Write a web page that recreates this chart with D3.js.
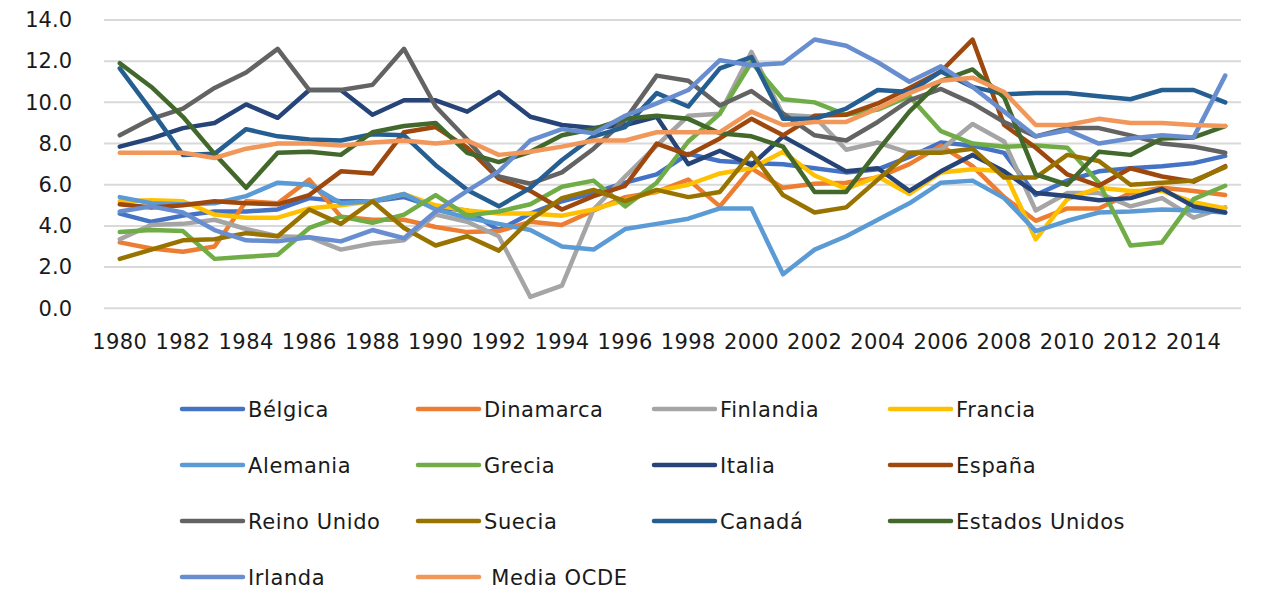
<!DOCTYPE html>
<html>
<head>
<meta charset="utf-8">
<script src="https://cdn.jsdelivr.net/npm/d3@7"></script>
<style>
  body { margin: 0; background: #fff; }
  svg text { font-family: "DejaVu Sans", sans-serif; fill: #1a1a1a; }
</style>
</head>
<body>
<div id="chart"></div>
<script>
const years = [1980, 1981, 1982, 1983, 1984, 1985, 1986, 1987, 1988, 1989,
  1990, 1991, 1992, 1993, 1994, 1995, 1996, 1997, 1998, 1999,
  2000, 2001, 2002, 2003, 2004, 2005, 2006, 2007, 2008, 2009,
  2010, 2011, 2012, 2013, 2014, 2015];

const yTicks = [0, 2, 4, 6, 8, 10, 12, 14];

const belgica = [4.6, 4.2, 4.5, 4.7, 4.7, 4.8, 5.35, 5.2, 5.2, 5.4, 4.9, 4.75, 3.8, 4.6, 5.2, 5.6, 6.1, 6.5, 7.5, 7.15, 7.05, 7.0, 6.8, 6.6, 6.75, 7.35, 8.05, 7.9, 7.55, 5.5, 6.2, 6.65, 6.8, 6.9, 7.05, 7.4];
const dinamarca = [3.2, 2.9, 2.75, 3.0, 5.2, 5.1, 6.25, 4.45, 4.3, 4.3, 3.95, 3.7, 3.75, 4.2, 4.05, 4.75, 5.4, 5.65, 6.25, 4.95, 6.8, 5.85, 6.05, 6.1, 6.35, 7.0, 7.9, 6.9, 5.4, 4.25, 4.85, 4.85, 5.6, 5.85, 5.7, 5.5];
const finlandia = [3.35, 4.05, 4.1, 4.3, 3.85, 3.5, 3.45, 2.85, 3.15, 3.3, 4.55, 4.2, 3.5, 0.55, 1.1, 4.8, 6.4, 7.9, 9.35, 9.45, 12.45, 9.4, 9.3, 7.7, 8.05, 7.55, 7.7, 8.95, 8.1, 4.75, 5.6, 5.6, 4.95, 5.35, 4.4, 4.9];
const francia = [5.2, 5.25, 5.2, 4.55, 4.4, 4.4, 4.85, 5.0, 5.2, 5.55, 5.0, 4.75, 4.6, 4.6, 4.5, 4.8, 5.25, 5.7, 6.0, 6.55, 6.8, 7.6, 6.45, 5.8, 6.4, 5.55, 6.6, 6.75, 6.65, 3.35, 5.3, 5.85, 5.7, 5.7, 5.15, 4.85];
const alemania = [5.4, 5.1, 5.05, 5.1, 5.45, 6.1, 6.0, 5.1, 5.2, 5.55, 4.8, 4.4, 4.1, 3.8, 3.0, 2.85, 3.85, 4.1, 4.35, 4.85, 4.85, 1.65, 2.85, 3.5, 4.3, 5.1, 6.1, 6.2, 5.35, 3.75, 4.25, 4.65, 4.7, 4.8, 4.75, 4.65];
const grecia = [3.7, 3.8, 3.75, 2.4, 2.5, 2.6, 3.9, 4.45, 4.15, 4.55, 5.5, 4.5, 4.7, 5.05, 5.9, 6.2, 4.95, 6.1, 8.1, 9.45, 11.95, 10.15, 10.0, 9.4, 9.65, 10.3, 8.6, 8.0, 7.85, 7.9, 7.8, 6.1, 3.05, 3.2, 5.3, 5.95];
const italia = [7.85, 8.25, 8.75, 9.0, 9.9, 9.25, 10.6, 10.6, 9.4, 10.1, 10.1, 9.55, 10.5, 9.3, 8.9, 8.75, 8.9, 9.3, 7.0, 7.65, 6.95, 8.35, 7.5, 6.65, 6.8, 5.7, 6.65, 7.45, 6.65, 5.6, 5.45, 5.25, 5.35, 5.8, 4.95, 4.65];
const espana = [5.05, 4.9, 5.0, 5.2, 5.1, 5.05, 5.5, 6.65, 6.55, 8.55, 8.8, 7.8, 6.3, 5.7, 4.8, 5.45, 5.95, 8.0, 7.45, 8.25, 9.2, 8.4, 9.35, 9.4, 9.95, 10.7, 11.5, 13.05, 8.9, 7.8, 6.5, 5.95, 6.8, 6.4, 6.15, 6.9];
const reinoUnido = [8.4, 9.2, 9.7, 10.7, 11.45, 12.6, 10.6, 10.6, 10.85, 12.6, 9.8, 8.2, 6.4, 6.05, 6.6, 7.75, 9.15, 11.3, 11.05, 9.85, 10.55, 9.45, 8.4, 8.15, 9.05, 10.1, 10.65, 9.95, 9.05, 8.35, 8.75, 8.75, 8.4, 8.0, 7.85, 7.55];
const suecia = [2.4, 2.85, 3.3, 3.35, 3.65, 3.5, 4.8, 4.1, 5.2, 3.9, 3.05, 3.5, 2.8, 4.3, 5.35, 5.75, 5.2, 5.75, 5.4, 5.65, 7.55, 5.5, 4.65, 4.9, 6.25, 7.55, 7.55, 7.75, 6.35, 6.35, 7.45, 7.15, 6.0, 6.1, 6.2, 6.85];
const canada = [11.65, 9.6, 7.45, 7.5, 8.7, 8.35, 8.2, 8.15, 8.45, 8.4, 6.95, 5.75, 4.95, 5.85, 7.2, 8.35, 8.8, 10.45, 9.8, 11.65, 12.2, 9.2, 9.2, 9.7, 10.6, 10.5, 11.5, 10.75, 10.4, 10.45, 10.45, 10.3, 10.15, 10.6, 10.6, 10.0];
const estadosUnidos = [11.9, 10.75, 9.3, 7.5, 5.85, 7.55, 7.6, 7.45, 8.55, 8.85, 9.0, 7.55, 7.1, 7.6, 8.4, 8.7, 9.2, 9.35, 9.2, 8.5, 8.35, 7.85, 5.65, 5.65, 7.65, 9.55, 11.05, 11.6, 10.25, 6.5, 6.0, 7.6, 7.45, 8.25, 8.3, 8.85];
const irlanda = [4.7, 4.95, 4.65, 3.8, 3.3, 3.25, 3.45, 3.25, 3.8, 3.4, 4.7, 5.7, 6.65, 8.15, 8.7, 8.5, 9.35, 9.95, 10.6, 12.05, 11.8, 11.9, 13.05, 12.75, 11.95, 11.0, 11.75, 10.75, 9.55, 8.35, 8.65, 8.0, 8.25, 8.4, 8.3, 11.3];
const mediaOCDE = [7.55, 7.55, 7.55, 7.3, 7.75, 8.0, 8.0, 7.9, 8.05, 8.15, 8.0, 8.15, 7.45, 7.6, 7.85, 8.15, 8.15, 8.55, 8.55, 8.55, 9.55, 8.9, 9.05, 9.05, 9.7, 10.45, 11.05, 11.2, 10.5, 8.9, 8.9, 9.2, 9.0, 9.0, 8.9, 8.85];

const seriesNames = ['Bélgica', 'Dinamarca', 'Finlandia', 'Francia', 'Alemania', 'Grecia', 'Italia',
  'España', 'Reino Unido', 'Suecia', 'Canadá', 'Estados Unidos', 'Irlanda', ' Media OCDE'];
const seriesValues = [belgica, dinamarca, finlandia, francia, alemania, grecia, italia,
  espana, reinoUnido, suecia, canada, estadosUnidos, irlanda, mediaOCDE];
const seriesColors = ['#4472C4', '#ED7D31', '#A5A5A5', '#FFC000', '#5B9BD5', '#70AD47', '#264478',
  '#9E480E', '#636363', '#997300', '#255E91', '#43682B', '#698ED0', '#F1975A'];

const width = 1268, height = 594;
const plot = { left: 104, right: 1241, top: 20, bottom: 308.3 };

const svg = d3.select('#chart').append('svg')
  .attr('width', width).attr('height', height);

const x = d3.scaleBand().domain(years).range([plot.left, plot.right]).padding(0);
const cx = d => x(d) + x.bandwidth() / 2;
const y = d3.scaleLinear().domain([0, 14]).range([plot.bottom, plot.top]);

// gridlines
svg.append('g').selectAll('line').data(yTicks).join('line')
  .attr('x1', plot.left).attr('x2', plot.right)
  .attr('y1', d => y(d)).attr('y2', d => y(d))
  .attr('stroke', '#d9d9d9').attr('stroke-width', 2);

// y axis labels
const yAxis = svg.append('g').attr('transform', `translate(${plot.left},0)`)
  .call(d3.axisLeft(y).tickValues(yTicks).tickFormat(d3.format('.1f')).tickSize(0).tickPadding(32));
yAxis.select('.domain').remove();
yAxis.selectAll('text').attr('font-size', '21px').attr('font-family', 'DejaVu Sans');

// x axis labels, every other year
const xAxis = svg.append('g').attr('transform', `translate(0,${plot.bottom})`)
  .call(d3.axisBottom(x).tickValues(years.filter((d, i) => i % 2 === 0)).tickSize(0).tickPadding(26));
xAxis.select('.domain').remove();
xAxis.selectAll('text').attr('font-size', '21px').attr('font-family', 'DejaVu Sans')
  .attr('letter-spacing', '0.4px');

// lines
const line = d3.line().x((d, i) => cx(years[i])).y(d => y(d));
svg.append('g').selectAll('path').data(seriesValues).join('path')
  .attr('d', d => line(d))
  .attr('fill', 'none')
  .attr('stroke', (d, i) => seriesColors[i])
  .attr('stroke-width', 4.5)
  .attr('stroke-linejoin', 'round')
  .attr('stroke-linecap', 'round');

// legend: 4 columns
const leg = svg.append('g');
seriesNames.forEach((name, i) => {
  const col = i % 4, row = Math.floor(i / 4);
  const lx = 182 + col * 236, ly = 409 + row * 56;
  leg.append('line').attr('x1', lx).attr('x2', lx + 61).attr('y1', ly).attr('y2', ly)
    .attr('stroke', seriesColors[i]).attr('stroke-width', 4.5).attr('stroke-linecap', 'round');
  leg.append('text').attr('x', lx + 66).attr('y', ly + 7.5)
    .attr('font-size', '21px').attr('letter-spacing', '0.6px')
    .style('white-space', 'pre')
    .text(name);
});
</script>
</body>
</html>
